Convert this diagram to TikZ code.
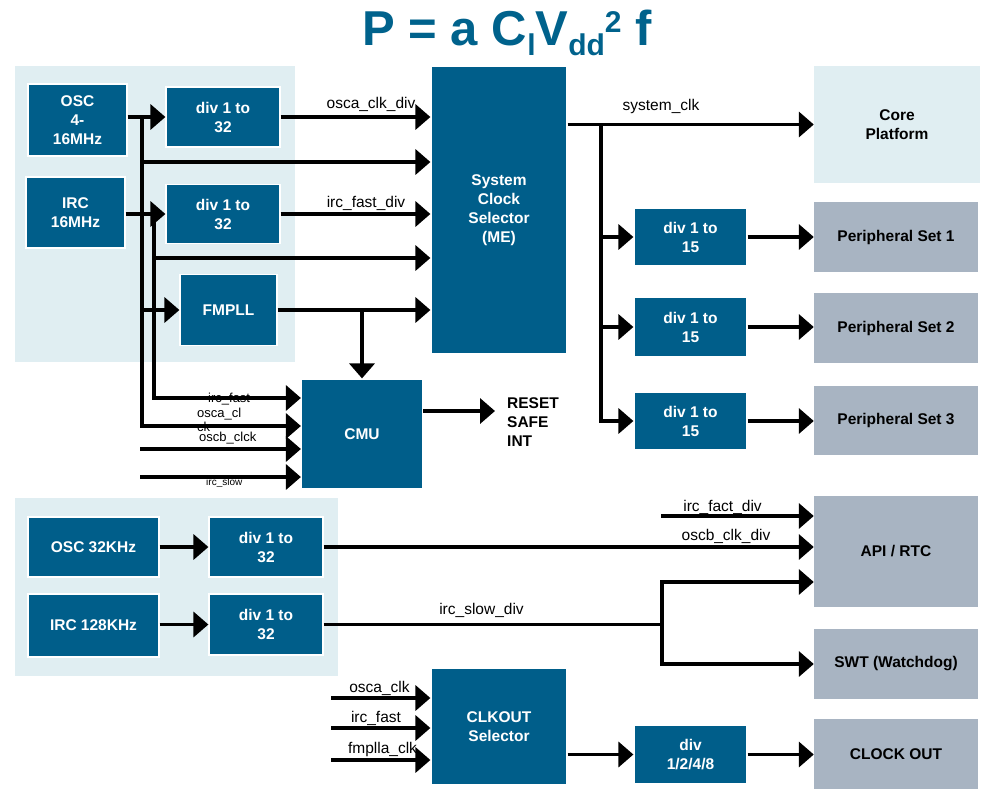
\documentclass[tikz,border=0pt]{standalone}
\usepackage{fontspec}
\setmainfont{Liberation Sans}
\usetikzlibrary{arrows.meta}
\definecolor{dkblue}{HTML}{005E8A}
\definecolor{titlec}{HTML}{00628C}
\definecolor{panelc}{HTML}{E0EEF2}
\definecolor{grayb}{HTML}{A8B4C2}
\newcommand{\bxfont}{\bfseries\fontsize{15.5}{19}\selectfont}
\newcommand{\lbfont}{\fontsize{15.5}{18}\selectfont}
\begin{document}
\begin{tikzpicture}[x=1pt,y=-1pt,
  sz/.style 2 args={minimum width=#1,minimum height=#2},
  dbox/.style={fill=dkblue,draw=white,line width=1.2pt,text=white,font=\bxfont,align=center,inner sep=0pt},
  gbox/.style={fill=grayb,draw=none,text=black,font=\bxfont,align=center,inner sep=0pt},
  panel/.style={fill=panelc,draw=none},
  wire/.style={line width=3.6pt},
  arr/.style={wire,-{Triangle[length=15pt,width=25pt]}},
  lbl/.style={font=\lbfont,inner sep=0pt,anchor=base},
  slbl/.style={inner sep=0pt,anchor=base west},
]
\useasboundingbox (0,0) rectangle (982,788);
% panels
\fill[panel] (15,66) rectangle (295,362);
\fill[panel] (15,498) rectangle (338,676);
% title
\node[anchor=base,text=titlec,font=\bfseries\fontsize{49}{49}\selectfont,inner sep=0pt] (title) at (507,45)
  {P = a C\raisebox{-10pt}{\fontsize{30}{30}\selectfont l}V\raisebox{-10pt}{\fontsize{30}{30}\selectfont dd}\raisebox{13pt}{\fontsize{30}{30}\selectfont 2} f};
% small CMU labels (behind wires)
\node[slbl,font=\fontsize{13}{13}\selectfont] (lif) at (208,402) {irc\_fast};
\node[slbl,font=\fontsize{13}{13}\selectfont] (loc1) at (197,417) {osca\_cl};
\node[slbl,font=\fontsize{13}{13}\selectfont] (loc2) at (197,431) {ck};
\node[slbl,font=\fontsize{13}{13}\selectfont] (lob) at (199,441) {oscb\_clck};
\node[slbl,font=\fontsize{10}{10}\selectfont] (lis) at (206,485) {irc\_slow};
% boxes
\node[dbox,sz={99}{72}] (osc) at (77.5,120) {OSC\\4-\\16MHz};
\node[dbox,sz={99}{71}] (irc) at (75.5,212.5) {IRC\\16MHz};
\node[dbox,sz={114}{60}] (divA) at (223,117) {div 1 to\\32};
\node[dbox,sz={114}{59}] (divB) at (223,214) {div 1 to\\32};
\node[dbox,sz={97}{71}] (fmpll) at (228.5,310) {FMPLL};
\node[dbox,sz={136}{288}] (scs) at (499,210) {System\\Clock\\Selector\\(ME)};
\node[dbox,sz={121}{110}] (cmu) at (362,434) {CMU};
\node[dbox,sz={113}{58}] (dA) at (690.5,237) {div 1 to\\15};
\node[dbox,sz={113}{59}] (dB) at (690.5,327) {div 1 to\\15};
\node[dbox,sz={113}{58}] (dC) at (690.5,421) {div 1 to\\15};
\node[gbox,fill=panelc,sz={166}{117}] (core) at (897,124.5) {Core\\Platform};
\node[gbox,sz={164}{70}] (ps1) at (896,237) {Peripheral Set 1};
\node[gbox,sz={164}{70}] (ps2) at (896,328) {Peripheral Set 2};
\node[gbox,sz={164}{69}] (ps3) at (896,420) {Peripheral Set 3};
\node[gbox,sz={164}{111}] (api) at (896,551.5) {API / RTC};
\node[gbox,sz={164}{70}] (swt) at (896,664) {SWT (Watchdog)};
\node[gbox,sz={164}{70}] (clkout) at (896,754) {CLOCK OUT};
\node[dbox,sz={131}{60}] (osc32) at (93.5,547) {OSC 32KHz};
\node[dbox,sz={131}{63}] (irc128) at (93.5,625.5) {IRC 128KHz};
\node[dbox,sz={114}{60}] (divC) at (266,547) {div 1 to\\32};
\node[dbox,sz={114}{61}] (divD) at (266,624.5) {div 1 to\\32};
\node[dbox,sz={136}{117}] (clksel) at (499,726.5) {CLKOUT\\Selector};
\node[dbox,sz={113}{59}] (div8) at (690.5,754.5) {div\\1/2/4/8};
\node[anchor=west,font=\bxfont,align=left,inner sep=0pt] (rsi) at (507,422) {RESET\\SAFE\\INT};
% labels
\node[lbl] (l1) at (371,108) {osca\_clk\_div};
\node[lbl] (l2) at (366,207) {irc\_fast\_div};
\node[lbl] (l3) at (661,110) {system\_clk};
\node[lbl] (l4) at (722.5,511) {irc\_fact\_div};
\node[lbl] (l5) at (726,540) {oscb\_clk\_div};
\node[lbl] (l6) at (481.5,614) {irc\_slow\_div};
\node[lbl] (l7) at (379.5,692) {osca\_clk};
\node[lbl] (l8) at (376,722) {irc\_fast};
\node[lbl] (l9) at (382.5,753) {fmplla\_clk};
% coordinates
\coordinate (bA) at (142,117);
\coordinate (bB) at (154,214);
\coordinate (yA) at (0,426);
\coordinate (yB) at (0,398);
\coordinate (y162) at (0,162);
\coordinate (y258) at (0,258);
\coordinate (in3) at (140,449);
\coordinate (in4) at (140,477);
\coordinate (rst) at (495,411);
\coordinate (sj) at (601,124.5);
\coordinate (fact) at (661,516);
\coordinate (sw) at (662,0);
\coordinate (y582) at (0,582);
\coordinate (c1) at (331,698);
\coordinate (c2) at (331,728);
\coordinate (c3) at (331,760);
% upper-left wiring
\draw[arr] (osc.east |- divA.west) -- (divA.west);
\draw[arr] (irc.east |- divB.west) -- (divB.west);
\draw[arr] (bA) |- (cmu.west |- yA);
\draw[arr] (bB) |- (cmu.west |- yB);
\draw[arr] (bA |- y162) -- (scs.west |- y162);
\draw[arr] (bB |- y258) -- (scs.west |- y258);
\draw[arr] (bA |- fmpll.west) -- (fmpll.west);
\draw[arr] (divA.east) -- (divA.east -| scs.west);
\draw[arr] (divB.east) -- (divB.east -| scs.west);
\draw[arr] (fmpll.east) -- (fmpll.east -| scs.west);
\draw[arr] (fmpll.east -| cmu.north) -- (cmu.north);
\draw[arr] (in3) -- (in3 -| cmu.west);
\draw[arr] (in4) -- (in4 -| cmu.west);
\draw[arr] (rst -| cmu.east) -- (rst);
% right wiring
\draw[arr] (scs.east |- core.west) -- (core.west);
\draw[arr] (sj) |- (dC.west);
\draw[arr] (sj |- dA.west) -- (dA.west);
\draw[arr] (sj |- dB.west) -- (dB.west);
\draw[arr] (dA.east) -- (dA.east -| ps1.west);
\draw[arr] (dB.east) -- (dB.east -| ps2.west);
\draw[arr] (dC.east) -- (dC.east -| ps3.west);
% lower wiring
\draw[arr] (osc32.east) -- (divC.west);
\draw[arr] (irc128.east |- divD.west) -- (divD.west);
\draw[arr] (divC.east) -- (divC.east -| api.west);
\draw[arr] (fact) -- (fact -| api.west);
\draw[wire] (divD.east) -- (divD.east -| sw);
\draw[arr] (sw |- divD.east) |- (api.west |- y582);
\draw[arr] (sw |- divD.east) |- (swt.west);
\draw[arr] (c1) -- (c1 -| clksel.west);
\draw[arr] (c2) -- (c2 -| clksel.west);
\draw[arr] (c3) -- (c3 -| clksel.west);
\draw[arr] (clksel.east |- div8.west) -- (div8.west);
\draw[arr] (div8.east) -- (div8.east -| clkout.west);
\end{tikzpicture}
\end{document}
